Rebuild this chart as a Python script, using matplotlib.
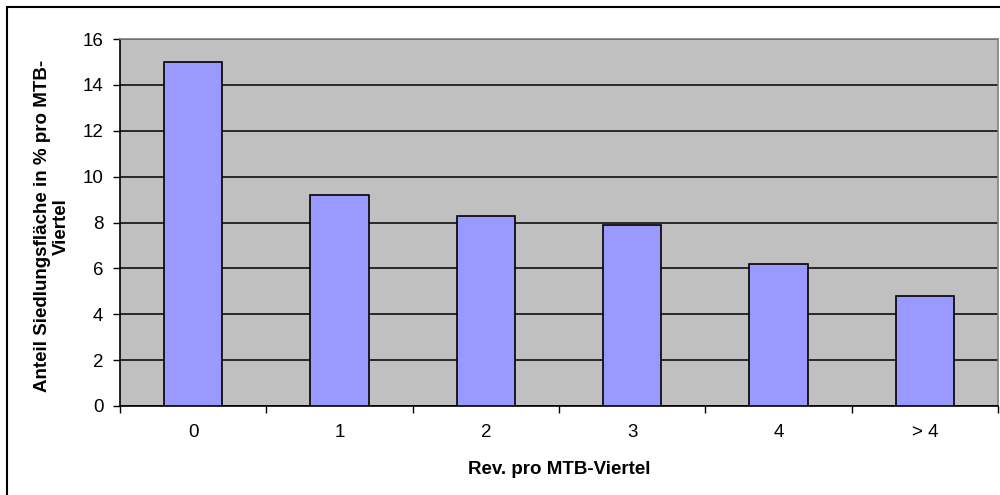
import matplotlib
matplotlib.use("Agg")
import matplotlib.pyplot as plt
from matplotlib.patches import Rectangle
import numpy as np

categories = ["0", "1", "2", "3", "4", "> 4"]
values = [15.0, 9.2, 8.3, 7.9, 6.2, 4.8]
yticks = [0, 2, 4, 6, 8, 10, 12, 14, 16]

plt.rcParams['font.family'] = ['Liberation Sans', 'DejaVu Sans']

fig = plt.figure(figsize=(10, 4.95), dpi=100)
ax = fig.add_axes([0.12, (495 - 406) / 495, 0.878, (406 - 39) / 495])
ax.set_facecolor('#C0C0C0')

x = np.arange(len(categories))
ax.bar(x, values, width=0.4, color='#9999FF', edgecolor='black', linewidth=1.2, zorder=3)

ax.set_xlim(-0.5, len(categories) - 0.5)
ax.set_ylim(0, 16)
ax.set_yticks(yticks)
ax.set_yticklabels([str(v) for v in yticks], fontsize=13.5)
ax.yaxis.grid(True, color='black', linewidth=1.1, zorder=1)
ax.set_axisbelow(True)

ax.set_xticks(np.arange(-0.5, len(categories), 1.0))
ax.set_xticklabels([])
ax.set_xticks(x, minor=True)
ax.set_xticklabels(categories, minor=True, fontsize=13.5)
ax.tick_params(axis='x', which='minor', length=0, pad=13)
ax.tick_params(axis='x', which='major', length=5, direction='out', width=1)
ax.tick_params(axis='y', length=5, direction='out', width=1, pad=7)

for s in ['top', 'right']:
    ax.spines[s].set_color('#808080')
    ax.spines[s].set_linewidth(1.2)
for s in ['left', 'bottom']:
    ax.spines[s].set_color('black')
    ax.spines[s].set_linewidth(1.2)

ax.set_xlabel("Rev. pro MTB-Viertel", fontsize=13.5, fontweight='bold', labelpad=14)
ax.set_ylabel("Anteil Siedlungsfläche in % pro MTB-\nViertel", fontsize=13.5,
              fontweight='bold', linespacing=1.15)
ax.yaxis.label.set_verticalalignment('center')
ax.yaxis.set_label_coords((51.5 - 120) / 878, 0.49)

frame = Rectangle((7 / 1000, -0.1), 1.2, 1 - 7 / 495 + 0.1, transform=fig.transFigure,
                  fill=False, edgecolor='black', linewidth=1.5)
fig.patches.append(frame)

fig.savefig("out.png", dpi=100)
